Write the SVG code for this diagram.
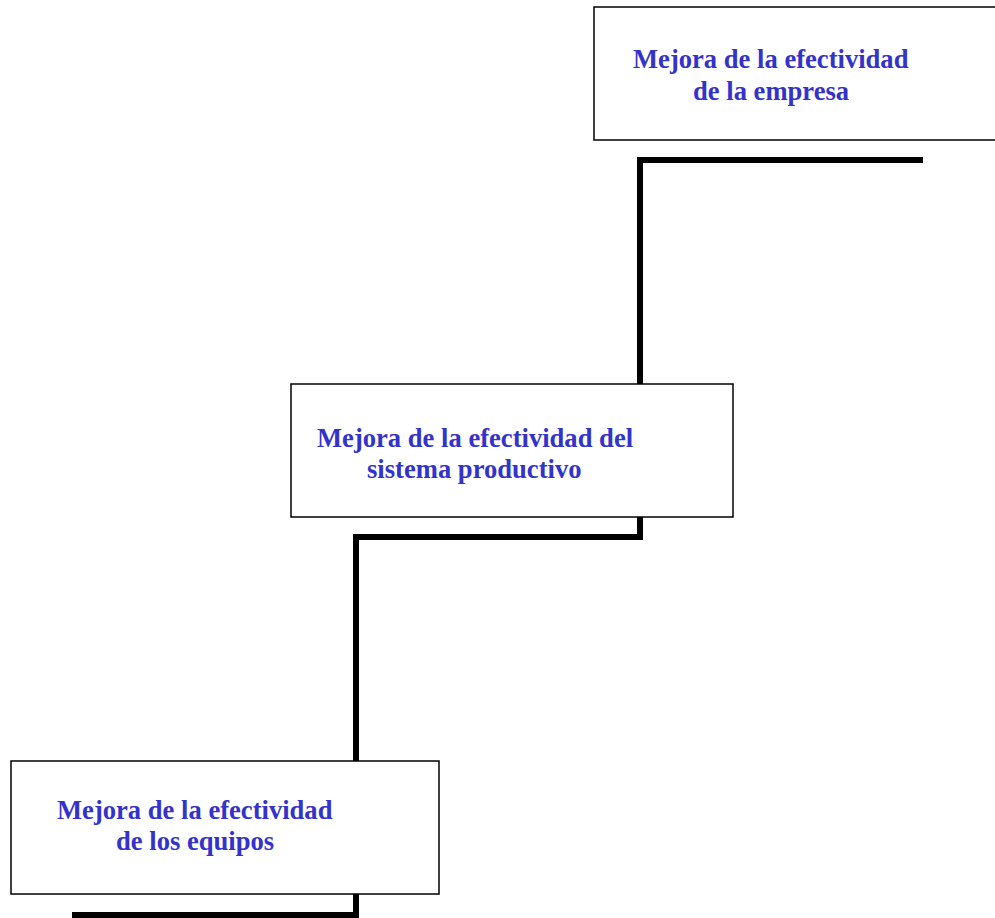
<svg xmlns="http://www.w3.org/2000/svg" width="995" height="918" viewBox="0 0 995 918">
<style>
.box{fill:#ffffff;stroke:#000000;stroke-width:1.5}
.lbl{font-family:"Liberation Serif","Times New Roman",serif;font-weight:bold;font-size:26.6px;fill:#3333CC}
.con{fill:none;stroke:#000000;stroke-width:6;stroke-linejoin:miter;stroke-linecap:butt}
</style>
<rect width="995" height="918" fill="#ffffff"/>
<g id="connectors">
<polyline class="con" points="923,160 640,160 640,384"/>
<polyline class="con" points="640,517 640,537 356,537 356,761"/>
<polyline class="con" points="356,894 356,915 72,915"/>
</g>
<g id="node-empresa">
<rect class="box" x="594" y="7" width="410" height="133"/>
<text class="lbl" x="633" y="68">Mejora de la efectividad</text>
<text class="lbl" x="693" y="100">de la empresa</text>
</g>
<g id="node-sistema">
<rect class="box" x="291" y="384" width="442" height="133"/>
<text class="lbl" x="317" y="447">Mejora de la efectividad del</text>
<text class="lbl" x="367" y="478">sistema productivo</text>
</g>
<g id="node-equipos">
<rect class="box" x="11" y="761" width="428" height="133"/>
<text class="lbl" x="57" y="819">Mejora de la efectividad</text>
<text class="lbl" x="116" y="850">de los equipos</text>
</g>
</svg>
